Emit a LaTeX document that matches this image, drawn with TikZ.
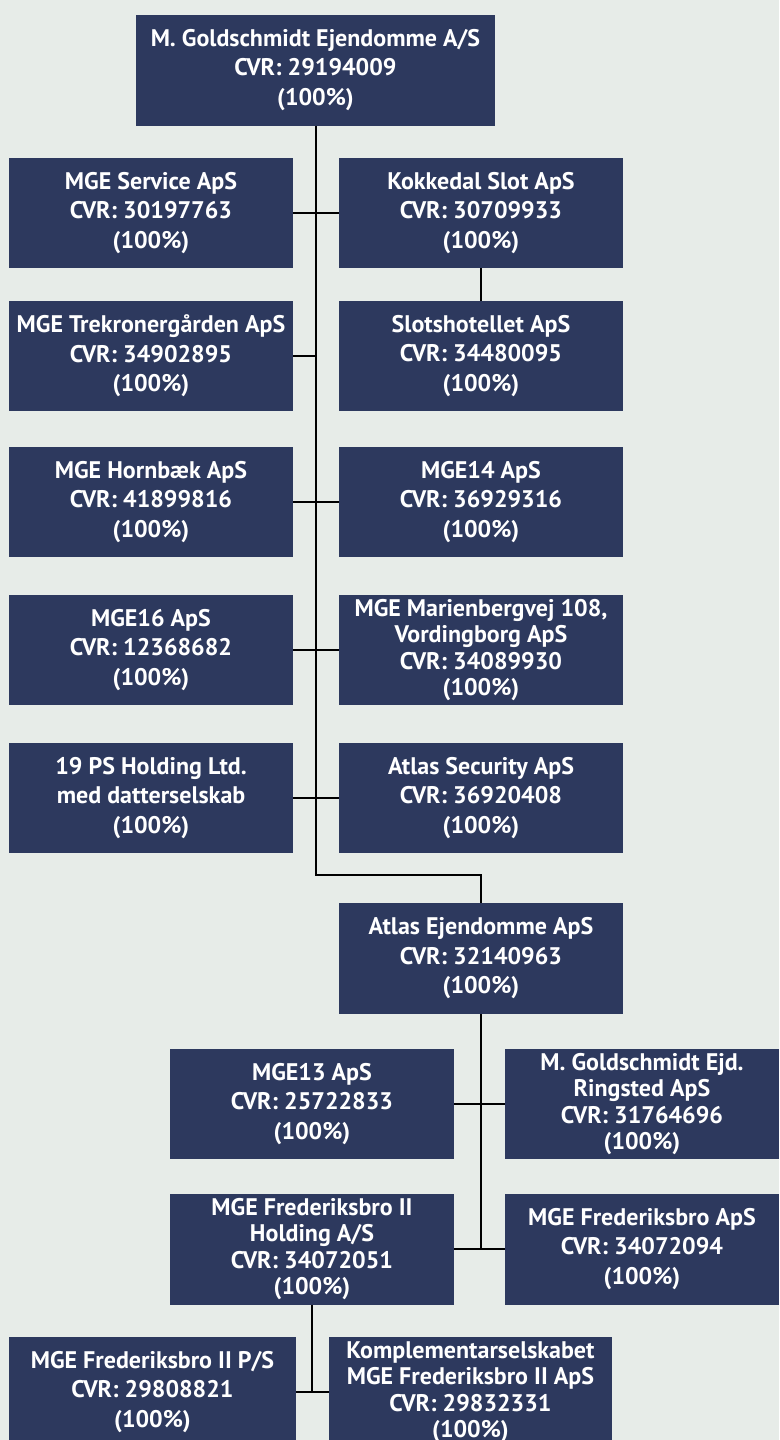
\documentclass[tikz,border=0pt]{standalone}
\usepackage{fontspec}
\setmainfont{PT Sans}
\definecolor{pagebg}{RGB}{231,236,232}
\definecolor{boxblue}{RGB}{45,57,94}

\begin{document}
\begin{tikzpicture}[
    x=1pt, y=-1pt,
    % Bokse
    company/.style={rectangle, fill=boxblue, text=white, inner sep=0pt,
        minimum width=284pt, minimum height=110pt, align=center,
        font=\fontsize{24}{29.5}\selectfont\bfseries},
    tight/.style={font=\fontsize{24}{26.5}\selectfont\bfseries},
    % Linjer
    link/.style={draw=black, line width=2pt}
]

% Baggrund og ramme
\fill[pagebg] (0,0) rectangle (779,1440);
\useasboundingbox (0,0) rectangle (779,1440);

% Moderselskab
\node[company, minimum width=359pt, minimum height=111pt] (top) at (315.5,70)
    {M. Goldschmidt Ejendomme A/S\\CVR: 29194009\\(100\%)};

% Venstre kolonne
\node[company] (svc) at (151,213) {MGE Service ApS\\CVR: 30197763\\(100\%)};
\node[company] (trek) at (151,356) {MGE Trekronergården ApS\\CVR: 34902895\\(100\%)};
\node[company] (horn) at (151,502) {MGE Hornbæk ApS\\CVR: 41899816\\(100\%)};
\node[company] (mgeXVI) at (151,650) {MGE16 ApS\\CVR: 12368682\\(100\%)};
\node[company] (psxix) at (151,798) {19 PS Holding Ltd.\\med datterselskab\\(100\%)};

% Hoejre kolonne
\node[company] (kok) at (481,213) {Kokkedal Slot ApS\\CVR: 30709933\\(100\%)};
\node[company] (slot) at (481,356) {Slotshotellet ApS\\CVR: 34480095\\(100\%)};
\node[company] (mgeXIV) at (481,502) {MGE14 ApS\\CVR: 36929316\\(100\%)};
\node[company, tight] (marien) at (481,650)
    {MGE Marienbergvej 108,\\Vordingborg ApS\\CVR: 34089930\\(100\%)};
\node[company] (atlassec) at (481,798) {Atlas Security ApS\\CVR: 36920408\\(100\%)};

% Atlas Ejendomme med datterselskaber
\node[company, minimum height=111pt] (atlas) at (481,958.5)
    {Atlas Ejendomme ApS\\CVR: 32140963\\(100\%)};
\node[company] (mgeXIII) at (312,1104) {MGE13 ApS\\CVR: 25722833\\(100\%)};
\node[company, tight, minimum width=274pt] (ringsted) at (642,1104)
    {M. Goldschmidt Ejd.\\Ringsted ApS\\CVR: 31764696\\(100\%)};
\node[company, tight, minimum height=111pt] (frbhold) at (312,1249)
    {MGE Frederiksbro II\\Holding A/S\\CVR: 34072051\\(100\%)};
\node[company, minimum width=274pt, minimum height=111pt] (frbaps) at (642,1249)
    {MGE Frederiksbro ApS\\CVR: 34072094\\(100\%)};

% Nederste raekke
\node[company, minimum width=287pt] (frbps) at (152.5,1392)
    {MGE Frederiksbro II P/S\\CVR: 29808821\\(100\%)};
\node[company, tight, minimum width=283pt] (kompl) at (470.5,1392)
    {Komplementarselskabet\\MGE Frederiksbro II ApS\\CVR: 29832331\\(100\%)};

% Hovedstamme
\coordinate (bendA) at (315.5,875);
\coordinate (bendB) at (481,875);
\draw[link] (top.south) -- (bendA) -- (bendB) -- (atlas.north);

% Forbindelser i kolonnerne
\draw[link] (svc.east) -- (kok.west);
\draw[link] (trek.east) -- (trek.east -| top.south);
\draw[link] (kok.south) -- (slot.north);
\draw[link] (horn.east) -- (mgeXIV.west);
\draw[link] (mgeXVI.east) -- (marien.west);
\draw[link] (psxix.east) -- (atlassec.west);

% Under Atlas Ejendomme
\draw[link] (atlas.south) -- (atlas.south |- frbhold.east);
\draw[link] (mgeXIII.east) -- (ringsted.west);
\draw[link] (frbhold.east) -- (frbaps.west);

% Under Frederiksbro II Holding
\draw[link] (frbhold.south) -- (frbhold.south |- frbps.east);
\draw[link] (frbps.east) -- (kompl.west);

\end{tikzpicture}
\end{document}
